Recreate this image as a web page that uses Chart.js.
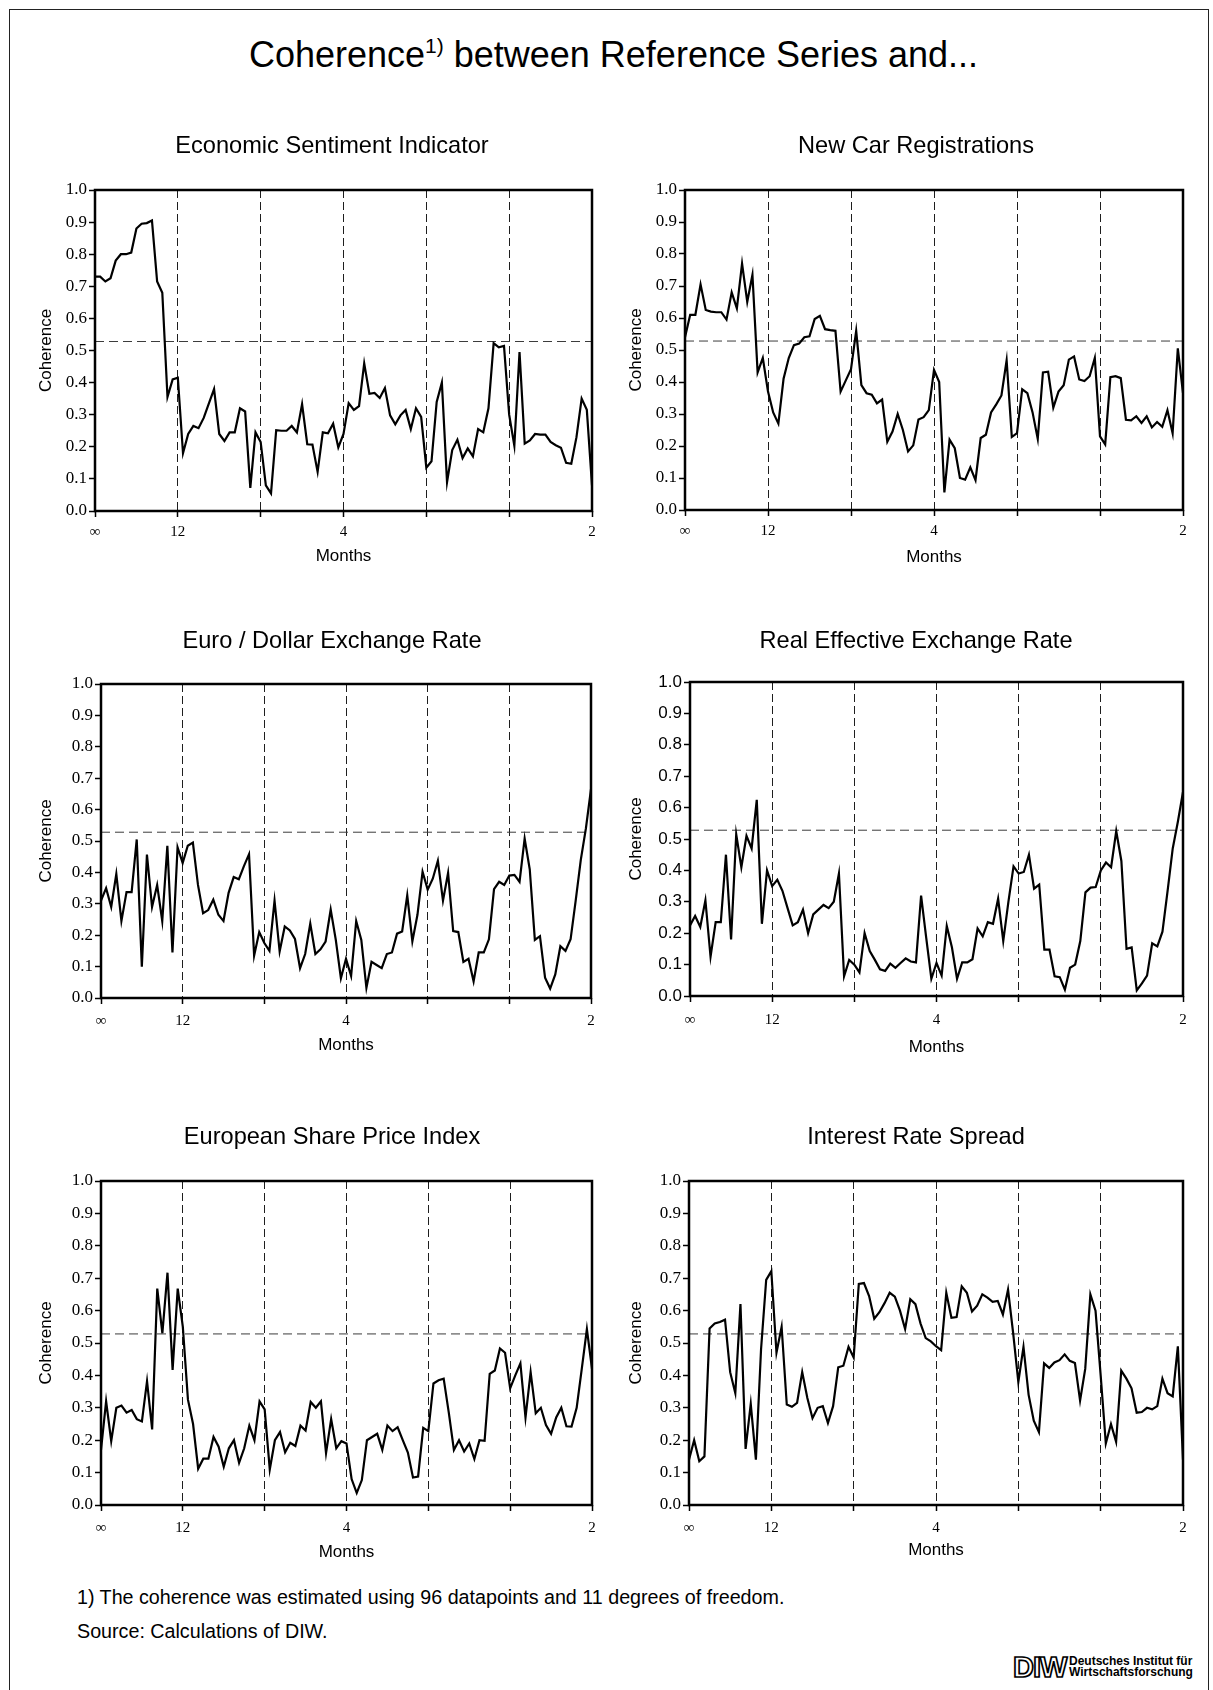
<!DOCTYPE html>
<html>
<head>
<meta charset="utf-8">
<title>Coherence between Reference Series and...</title>
<script src="https://cdn.jsdelivr.net/npm/chart.js@4.4.1/dist/chart.umd.min.js"></script>
<style>
	html, body { margin: 0; padding: 0; background: #fff; }
	body { position: relative; width: 1213px; height: 1690px; overflow: hidden; color: #000; font-family: "Liberation Sans", Arial, Helvetica, sans-serif; }
	.frame { position: absolute; left: 9px; top: 9px; width: 1200px; height: 1720px; border: 1px solid #222; box-sizing: border-box; }
	.main-title { position: absolute; left: 14px; width: 1199px; top: 37px; text-align: center; font-size: 36px; line-height: 36px; white-space: nowrap; }
	.main-title sup { font-size: 21px; line-height: 0; vertical-align: 14px; }
	.note { position: absolute; left: 77px; font-size: 19.7px; line-height: 20px; white-space: nowrap; }
	.logo-mark { position: absolute; left: 1013px; top: 1653px; font-size: 29px; line-height: 29px; font-weight: bold; letter-spacing: -1px; color: #fff; -webkit-text-stroke: 1.7px #000; }
	.logo-name { position: absolute; left: 1069px; top: 1656px; font-size: 12px; line-height: 10.5px; font-weight: bold; white-space: nowrap; }
</style>
</head>
<body>
<div class="frame"></div>
<div class="main-title">Coherence<sup>1)</sup> between Reference Series and...</div>

<div class="note" style="top:1587px;">1) The coherence was estimated using 96 datapoints and 11 degrees of freedom.</div>
<div class="note" style="top:1621px;">Source: Calculations of DIW.</div>
<span class="logo-mark">DIW</span>
<span class="logo-name">Deutsches Institut für<br>Wirtschaftsforschung</span>

<script>
	"use strict";

	var SANS  = '"Liberation Sans", Arial, Helvetica, sans-serif';
	var SERIF = '"Liberation Serif", "Times New Roman", Times, serif';

	// ---- data ----
	var panelTitles = [
		'Economic Sentiment Indicator',
		'New Car Registrations',
		'Euro / Dollar Exchange Rate',
		'Real Effective Exchange Rate',
		'European Share Price Index',
		'Interest Rate Spread'
	];

	// spectral ordinates 0..96, ticks at periods inf, 12, 6, 4, 3, 2.4, 2 months
	var tickIndex  = [0, 16, 32, 48, 64, 80, 96];
	var tickLabels = ['\u221e', '12', '', '4', '', '', '2'];

	// critical value of the coherence
	var threshold = 0.528;

	var sentimentIndicator = [
		0.73, 0.73, 0.715, 0.725, 0.78, 0.80, 0.80, 0.805, 0.88, 0.895, 0.897, 0.905, 0.715, 0.68, 0.355, 0.41,
		0.415, 0.18, 0.24, 0.265, 0.258, 0.29, 0.335, 0.38, 0.24, 0.218, 0.245, 0.245, 0.32, 0.31, 0.072, 0.245,
		0.215, 0.08, 0.055, 0.252, 0.25, 0.25, 0.265, 0.245, 0.333, 0.208, 0.207, 0.122, 0.245, 0.242, 0.272, 0.198,
		0.24, 0.336, 0.315, 0.327, 0.46, 0.365, 0.368, 0.352, 0.383, 0.298, 0.27, 0.298, 0.315, 0.255, 0.32, 0.293,
		0.135, 0.155, 0.34, 0.40, 0.09, 0.19, 0.222, 0.165, 0.195, 0.17, 0.255, 0.245, 0.32, 0.523, 0.51, 0.514,
		0.30, 0.203, 0.495, 0.21, 0.22, 0.24, 0.238, 0.238, 0.215, 0.205, 0.197, 0.15, 0.147, 0.23, 0.35, 0.315,
		0.08
	];

	var carRegistrations = [
		0.54, 0.61, 0.61, 0.705, 0.625, 0.62, 0.618, 0.618, 0.595, 0.68, 0.63, 0.77, 0.65, 0.735, 0.43, 0.475,
		0.37, 0.305, 0.27, 0.41, 0.475, 0.515, 0.52, 0.54, 0.543, 0.597, 0.607, 0.565, 0.562, 0.56, 0.37, 0.405,
		0.44, 0.56, 0.39, 0.365, 0.36, 0.333, 0.345, 0.213, 0.245, 0.30, 0.25, 0.183, 0.202, 0.283, 0.29, 0.312,
		0.438, 0.40, 0.055, 0.22, 0.193, 0.10, 0.095, 0.133, 0.093, 0.225, 0.235, 0.305, 0.33, 0.358, 0.468, 0.228,
		0.24, 0.377, 0.365, 0.305, 0.222, 0.43, 0.432, 0.32, 0.37, 0.39, 0.47, 0.48, 0.408, 0.403, 0.418, 0.475,
		0.23, 0.205, 0.415, 0.418, 0.412, 0.282, 0.28, 0.293, 0.272, 0.293, 0.258, 0.275, 0.26, 0.312, 0.24, 0.505,
		0.365
	];

	var euroDollarRate = [
		0.31, 0.35, 0.29, 0.395, 0.245, 0.337, 0.337, 0.505, 0.10, 0.457, 0.29, 0.36, 0.245, 0.485, 0.145, 0.48,
		0.43, 0.485, 0.495, 0.36, 0.27, 0.28, 0.313, 0.265, 0.245, 0.335, 0.385, 0.378, 0.42, 0.458, 0.135, 0.21,
		0.175, 0.15, 0.31, 0.148, 0.228, 0.215, 0.188, 0.095, 0.14, 0.237, 0.14, 0.155, 0.18, 0.282, 0.185, 0.063,
		0.125, 0.07, 0.245, 0.185, 0.032, 0.115, 0.105, 0.095, 0.14, 0.145, 0.205, 0.212, 0.327, 0.18, 0.265, 0.402,
		0.345, 0.38, 0.437, 0.31, 0.398, 0.213, 0.21, 0.115, 0.125, 0.053, 0.145, 0.145, 0.187, 0.347, 0.37, 0.36,
		0.39, 0.392, 0.37, 0.508, 0.41, 0.185, 0.197, 0.065, 0.03, 0.075, 0.165, 0.15, 0.187, 0.31, 0.44, 0.54,
		0.665
	];

	var realExchangeRate = [
		0.225, 0.255, 0.22, 0.305, 0.125, 0.235, 0.235, 0.45, 0.18, 0.515, 0.41, 0.51, 0.47, 0.625, 0.23, 0.40,
		0.35, 0.37, 0.335, 0.28, 0.225, 0.235, 0.275, 0.20, 0.26, 0.275, 0.29, 0.28, 0.30, 0.39, 0.063, 0.115,
		0.10, 0.075, 0.20, 0.143, 0.115, 0.085, 0.08, 0.103, 0.09, 0.105, 0.12, 0.11, 0.107, 0.32, 0.185, 0.055,
		0.105, 0.065, 0.223, 0.155, 0.055, 0.107, 0.107, 0.117, 0.215, 0.19, 0.235, 0.23, 0.31, 0.175, 0.30, 0.413,
		0.39, 0.395, 0.45, 0.342, 0.355, 0.148, 0.148, 0.063, 0.06, 0.02, 0.09, 0.10, 0.175, 0.33, 0.345, 0.347,
		0.40, 0.425, 0.41, 0.525, 0.43, 0.15, 0.155, 0.018, 0.04, 0.065, 0.168, 0.158, 0.205, 0.335, 0.47, 0.555,
		0.65
	];

	var sharePriceIndex = [
		0.17, 0.32, 0.197, 0.30, 0.307, 0.285, 0.293, 0.265, 0.258, 0.382, 0.233, 0.668, 0.53, 0.717, 0.417, 0.668,
		0.55, 0.325, 0.25, 0.112, 0.143, 0.143, 0.21, 0.18, 0.118, 0.175, 0.20, 0.13, 0.175, 0.245, 0.20, 0.32,
		0.295, 0.11, 0.20, 0.225, 0.163, 0.192, 0.182, 0.245, 0.23, 0.318, 0.30, 0.32, 0.16, 0.265, 0.175, 0.197,
		0.19, 0.08, 0.037, 0.077, 0.20, 0.21, 0.22, 0.17, 0.245, 0.228, 0.24, 0.20, 0.162, 0.085, 0.088, 0.238,
		0.228, 0.375, 0.385, 0.39, 0.285, 0.17, 0.20, 0.165, 0.19, 0.142, 0.20, 0.198, 0.405, 0.415, 0.483, 0.47,
		0.36, 0.40, 0.437, 0.27, 0.41, 0.283, 0.30, 0.247, 0.22, 0.27, 0.30, 0.243, 0.242, 0.30, 0.42, 0.543,
		0.42
	];

	var interestRateSpread = [
		0.14, 0.20, 0.135, 0.15, 0.545, 0.56, 0.565, 0.572, 0.41, 0.345, 0.62, 0.173, 0.312, 0.14, 0.48, 0.695,
		0.722, 0.47, 0.55, 0.31, 0.303, 0.315, 0.41, 0.33, 0.268, 0.30, 0.305, 0.253, 0.305, 0.425, 0.43, 0.488,
		0.455, 0.682, 0.685, 0.645, 0.575, 0.595, 0.623, 0.655, 0.643, 0.60, 0.543, 0.635, 0.62, 0.56, 0.515, 0.505,
		0.49, 0.478, 0.655, 0.578, 0.58, 0.675, 0.655, 0.597, 0.615, 0.65, 0.64, 0.627, 0.63, 0.588, 0.665, 0.53,
		0.38, 0.488, 0.34, 0.26, 0.225, 0.437, 0.423, 0.44, 0.447, 0.465, 0.445, 0.438, 0.322, 0.42, 0.65, 0.60,
		0.40, 0.19, 0.25, 0.195, 0.415, 0.39, 0.36, 0.285, 0.287, 0.30, 0.295, 0.305, 0.39, 0.345, 0.335, 0.49,
		0.14
	];

	var seriesList = [sentimentIndicator, carRegistrations, euroDollarRate, realExchangeRate, sharePriceIndex, interestRateSpread];

	// ---- page layout: plot box and text anchors per panel ----
	var panelBoxes = [
		{ left: 95,  top: 190,  right: 592,  bottom: 511,  titleX: 332, titleY: 146,  labelX: 46,  monthsY: 556,  tickPad: 6, yFont: SERIF },
		{ left: 685, top: 190,  right: 1183, bottom: 510,  titleX: 916, titleY: 146,  labelX: 636, monthsY: 557,  tickPad: 6, yFont: SERIF },
		{ left: 101, top: 684,  right: 591,  bottom: 998,  titleX: 332, titleY: 641,  labelX: 46,  monthsY: 1045, tickPad: 8, yFont: SERIF },
		{ left: 690, top: 682,  right: 1183, bottom: 996,  titleX: 916, titleY: 641,  labelX: 636, monthsY: 1047, tickPad: 9, yFont: SANS },
		{ left: 101, top: 1181, right: 592,  bottom: 1505, titleX: 332, titleY: 1137, labelX: 46,  monthsY: 1552, tickPad: 8, yFont: SERIF },
		{ left: 689, top: 1181, right: 1183, bottom: 1505, titleX: 916, titleY: 1137, labelX: 636, monthsY: 1550, tickPad: 8, yFont: SERIF }
	];

	// heavy box round the plotting area
	var plotFrame = {
		id: 'plot_frame',
		afterDatasetsDraw: function (chart) {
			var a = chart.chartArea;
			var ctx = chart.ctx;
			ctx.save();
			ctx.lineWidth = 2.5;
			ctx.strokeStyle = '#000';
			ctx.strokeRect(a.left, a.top, a.right - a.left, a.bottom - a.top);
			ctx.restore();
		}
	};

	function drawPanel(title, values, box) {
		var titleSize = 23.6, titleLine = titleSize * 1.2;
		var labelSize = 17, labelLine = labelSize * 1.2;
		var axisHeight = 64;

		var cLeft   = Math.round(box.labelX - 12);
		var cTop    = Math.round(box.titleY - titleLine / 2);
		var cWidth  = Math.round(2 * (box.titleX - cLeft));
		var cHeight = box.bottom + axisHeight - cTop;
		var yWidth   = box.left - cLeft;
		var rightGap = cLeft + cWidth - box.right;

		var canvas = document.createElement('canvas');
		canvas.width = cWidth;
		canvas.height = cHeight;
		canvas.style.cssText = 'position:absolute;left:' + cLeft + 'px;top:' + cTop + 'px;width:' + cWidth + 'px;height:' + cHeight + 'px;';
		document.body.appendChild(canvas);

		var points = values.map(function (v, i) { return { x: i, y: v }; });
		var level = [
			{ x: tickIndex[0], y: threshold },
			{ x: tickIndex[tickIndex.length - 1], y: threshold }
		];

		var config = {
			type: 'line',
			data: {
				datasets: [{
					label: title,
					data: points,
					borderColor: '#000',
					borderWidth: 2.2,
					pointRadius: 0,
					tension: 0,
					fill: false,
					order: 1
				}, {
					label: 'critical value',
					data: level,
					borderColor: '#3c3c3c',
					borderWidth: 1,
					borderDash: [9, 5],
					pointRadius: 0,
					fill: false,
					order: 2
				}]
			},
			options: {
				responsive: false,
				animation: false,
				events: [],
				layout: { padding: 0 },
				plugins: {
					legend: { display: false },
					tooltip: { enabled: false },
					title: {
						display: true,
						text: title,
						color: '#000',
						font: { family: SANS, size: titleSize, weight: 'normal', lineHeight: 1.2 },
						padding: { top: 0, bottom: box.top - cTop - titleLine }
					}
				},
				scales: {
					x: {
						type: 'linear',
						min: tickIndex[0],
						max: tickIndex[tickIndex.length - 1],
						afterBuildTicks: function (axis) {
							axis.ticks = tickIndex.map(function (v) { return { value: v }; });
						},
						afterFit: function (axis) { axis.height = axisHeight; },
						ticks: {
							autoSkip: false,
							maxRotation: 0,
							padding: box.tickPad,
							color: '#000',
							font: { family: SERIF, size: 15 },
							callback: function (value, index) { return tickLabels[index]; }
						},
						grid: {
							drawOnChartArea: true,
							color: function (c) {
								return (c.index > 0 && c.index < tickIndex.length - 1) ? '#1e1e1e' : 'rgba(0,0,0,0)';
							},
							lineWidth: 1,
							tickLength: 6,
							tickColor: '#000',
							tickWidth: 1.5
						},
						border: { display: false, dash: [8, 4] },
						title: {
							display: true,
							text: 'Months',
							color: '#000',
							font: { family: SANS, size: labelSize, lineHeight: 1.2 },
							padding: { top: 0, bottom: box.bottom + axisHeight - box.monthsY - labelLine / 2 }
						}
					},
					y: {
						min: 0,
						max: 1,
						afterFit: function (axis) { axis.width = yWidth; },
						ticks: {
							stepSize: 0.1,
							autoSkip: false,
							padding: 2,
							color: '#000',
							font: { family: box.yFont, size: 17 },
							callback: function (value) { return value.toFixed(1); }
						},
						grid: {
							drawOnChartArea: false,
							tickLength: 6,
							tickColor: '#000',
							tickWidth: 1.5
						},
						border: { display: false },
						title: {
							display: true,
							text: 'Coherence',
							color: '#000',
							font: { family: SANS, size: labelSize, lineHeight: 1.2 },
							padding: { top: box.labelX - cLeft - labelLine / 2, bottom: 0 }
						}
					},
					// empty right-hand axis, only keeps the panel title centred
					spacer: {
						position: 'right',
						display: true,
						afterFit: function (axis) { axis.width = rightGap; },
						ticks: { display: false },
						grid: { display: false, drawTicks: false },
						border: { display: false }
					}
				}
			},
			plugins: [plotFrame]
		};

		return new Chart(canvas.getContext('2d'), config);
	}

	for (var k = 0; k < panelTitles.length; k++) {
		drawPanel(panelTitles[k], seriesList[k], panelBoxes[k]);
	}
</script>
</body>
</html>
